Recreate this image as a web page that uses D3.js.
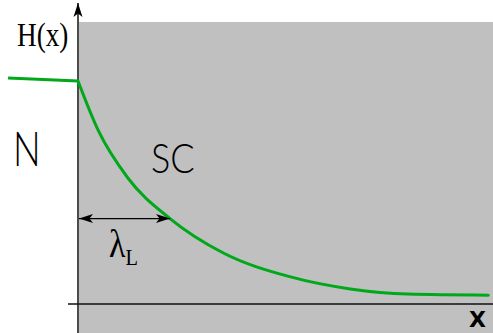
<!DOCTYPE html>
<html>
<head>
<meta charset="utf-8">
<script src="https://cdn.jsdelivr.net/npm/d3@7/dist/d3.min.js"></script>
<style>
  html, body { margin: 0; padding: 0; background: #fff; }
  svg { display: block; }
</style>
</head>
<body>
<svg id="chart" width="493" height="333"></svg>
<script>
// Field profile H(x) across a normal (N) / superconductor (SC) boundary.
// x is measured in units of the penetration depth λ_L; H is normalised to its value at the surface.
const normalX = [-0.76, 0];
const normalH = [1.014, 1.0];

const scX = [0, 0.22, 0.54, 1.0, 1.58, 2.30, 2.96, 3.58, 4.46];
const scH = [1.0, 0.77, 0.55, 0.36, 0.20, 0.09, 0.033, 0.009, 0.004];

const lambdaL = 1;          // length marked by the double arrow
const axisLabels = { y: "H(x)", x: "X" };
const regionLabels = { normal: "N", sc: "SC" };

const svg = d3.select("#chart");
const W = 493, H = 333;

const x = d3.scaleLinear().domain([0, 1]).range([78, 170]);
const y = d3.scaleLinear().domain([0, 1]).range([296, 81]);

const x0 = x(0);
const yAxisPos = 304;

// superconducting region background
svg.append("rect")
  .attr("x", x0 + 1).attr("y", 22)
  .attr("width", W - x0 - 1).attr("height", H - 22)
  .attr("fill", "#c0c0c0");

// arrowhead marker
const defs = svg.append("defs");
defs.append("marker")
  .attr("id", "stealth")
  .attr("viewBox", "0 -5 14 10")
  .attr("refX", 14).attr("refY", 0)
  .attr("markerUnits", "userSpaceOnUse")
  .attr("markerWidth", 14).attr("markerHeight", 10)
  .attr("orient", "auto-start-reverse")
  .append("path")
  .attr("d", "M0,-4.5L14,0L0,4.5L3.5,0Z")
  .attr("fill", "#000");

// horizontal axis
svg.append("line")
  .attr("x1", 68).attr("x2", W)
  .attr("y1", yAxisPos).attr("y2", yAxisPos)
  .attr("stroke", "#111").attr("stroke-width", 1.6);

// vertical axis with arrow
svg.append("line")
  .attr("x1", x0).attr("x2", x0)
  .attr("y1", H).attr("y2", 3)
  .attr("stroke", "#111").attr("stroke-width", 1.5)
  .attr("marker-end", "url(#stealth)");

// field curve: flat in the normal metal, decaying inside the superconductor
const line = d3.line().x(d => x(d[0])).y(d => y(d[1]));
svg.append("path")
  .datum(d3.zip(normalX, normalH))
  .attr("d", line)
  .attr("fill", "none").attr("stroke", "#00a81a").attr("stroke-width", 3);

svg.append("path")
  .datum(d3.zip(scX, scH))
  .attr("d", line.curve(d3.curveMonotoneX))
  .attr("fill", "none").attr("stroke", "#00a81a").attr("stroke-width", 3)
  .attr("stroke-linecap", "round");

// λ_L double arrow
const yLambda = y(scH[scX.indexOf(lambdaL)]);
svg.append("line")
  .attr("x1", x(0) + 1).attr("x2", x(lambdaL))
  .attr("y1", yLambda).attr("y2", yLambda)
  .attr("stroke", "#000").attr("stroke-width", 1.3)
  .attr("marker-start", "url(#stealth)")
  .attr("marker-end", "url(#stealth)");

// text helper with horizontal compression
function label(tx, ty, sx, sy) {
  return svg.append("g")
    .attr("transform", `translate(${tx},${ty}) scale(${sx},${sy})`)
    .append("text").attr("x", 0).attr("y", 0).attr("fill", "#000");
}

const lam = label(109, 257, 0.85, 1)
  .attr("font-family", "Liberation Serif, serif")
  .attr("font-size", 40);
lam.append("tspan").text("λ");
lam.append("tspan").attr("font-size", 24).attr("dy", 8).text("L");

label(17, 46, 0.8, 1)
  .attr("font-family", "Liberation Serif, serif")
  .attr("font-size", 34)
  .text(axisLabels.y);

label(469, 327, 1, 1)
  .attr("font-family", "DejaVu Sans, sans-serif")
  .attr("font-weight", "bold")
  .attr("font-size", 22)
  .text(axisLabels.x);

label(13, 166, 0.78, 1)
  .attr("font-family", "Lato, sans-serif")
  .attr("font-weight", 300)
  .attr("font-size", 47)
  .text(regionLabels.normal);

label(151, 173, 0.86, 1)
  .attr("font-family", "Lato, sans-serif")
  .attr("font-weight", 300)
  .attr("font-size", 42)
  .text(regionLabels.sc);
</script>
</body>
</html>
